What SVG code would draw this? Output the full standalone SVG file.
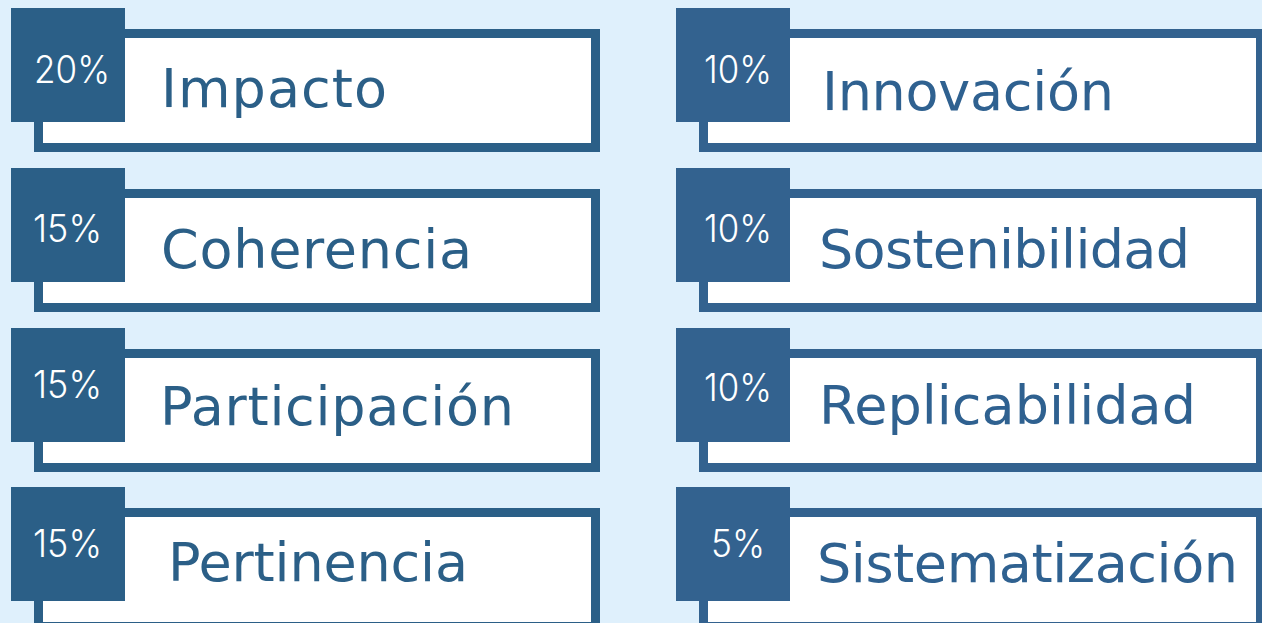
<svg xmlns="http://www.w3.org/2000/svg" width="1262" height="623" viewBox="0 0 1262 623">
<style>
.bg{fill:#dff0fc}
.cardL{fill:#ffffff;stroke:#2b5f87;stroke-width:9}
.cardR{fill:#ffffff;stroke:#33628f;stroke-width:9}
.sqL{fill:#2b5f87}
.sqR{fill:#33628f}
.pct{font-family:Inter,"Liberation Sans",sans-serif;font-size:38px;fill:#ffffff;font-weight:300}
.lblL{font-family:"DejaVu Sans","Liberation Sans",sans-serif;font-size:54px;fill:#2b5f87;font-weight:400}
.lblR{font-family:"DejaVu Sans","Liberation Sans",sans-serif;font-size:54px;fill:#2f6190;font-weight:400}
</style>
<rect class="bg" x="0" y="0" width="1262" height="623"/>
<g id="impacto">
<rect class="cardL" x="38.5" y="33.5" width="557" height="114"/>
<rect class="sqL" x="11" y="8" width="114" height="114"/>
<text class="pct" x="34" y="83" textLength="76" lengthAdjust="spacingAndGlyphs">20%</text>
<text class="lblL" x="161" y="107" textLength="226">Impacto</text>
</g>
<g id="coherencia">
<rect class="cardL" x="38.5" y="193.5" width="557" height="114"/>
<rect class="sqL" x="11" y="168" width="114" height="114"/>
<text class="pct" x="33" y="242" textLength="69" lengthAdjust="spacingAndGlyphs">15%</text>
<text class="lblL" x="161" y="268" textLength="311">Coherencia</text>
</g>
<g id="participacion">
<rect class="cardL" x="38.5" y="353.5" width="557" height="114"/>
<rect class="sqL" x="11" y="328" width="114" height="114"/>
<text class="pct" x="33" y="398" textLength="69" lengthAdjust="spacingAndGlyphs">15%</text>
<text class="lblL" x="160" y="425" textLength="354">Participación</text>
</g>
<g id="pertinencia">
<rect class="cardL" x="38.5" y="512.5" width="557" height="114"/>
<rect class="sqL" x="11" y="487" width="114" height="114"/>
<text class="pct" x="33" y="557" textLength="69" lengthAdjust="spacingAndGlyphs">15%</text>
<text class="lblL" x="168" y="581" textLength="300">Pertinencia</text>
</g>
<g id="innovacion">
<rect class="cardR" x="703.5" y="33.5" width="557" height="114"/>
<rect class="sqR" x="676" y="8" width="114" height="114"/>
<text class="pct" x="704" y="83" textLength="68" lengthAdjust="spacingAndGlyphs">10%</text>
<text class="lblR" x="822" y="110" textLength="292">Innovación</text>
</g>
<g id="sostenibilidad">
<rect class="cardR" x="703.5" y="193.5" width="557" height="114"/>
<rect class="sqR" x="676" y="168" width="114" height="114"/>
<text class="pct" x="704" y="242" textLength="68" lengthAdjust="spacingAndGlyphs">10%</text>
<text class="lblR" x="819" y="268" textLength="371">Sostenibilidad</text>
</g>
<g id="replicabilidad">
<rect class="cardR" x="703.5" y="353.5" width="557" height="114"/>
<rect class="sqR" x="676" y="328" width="114" height="114"/>
<text class="pct" x="704" y="401" textLength="68" lengthAdjust="spacingAndGlyphs">10%</text>
<text class="lblR" x="819" y="424" textLength="377">Replicabilidad</text>
</g>
<g id="sistematizacion">
<rect class="cardR" x="703.5" y="512.5" width="557" height="114"/>
<rect class="sqR" x="676" y="487" width="114" height="114"/>
<text class="pct" x="711" y="557" textLength="54" lengthAdjust="spacingAndGlyphs">5%</text>
<text class="lblR" x="817" y="582" textLength="421">Sistematización</text>
</g>
<g id="connectors"></g>
</svg>
